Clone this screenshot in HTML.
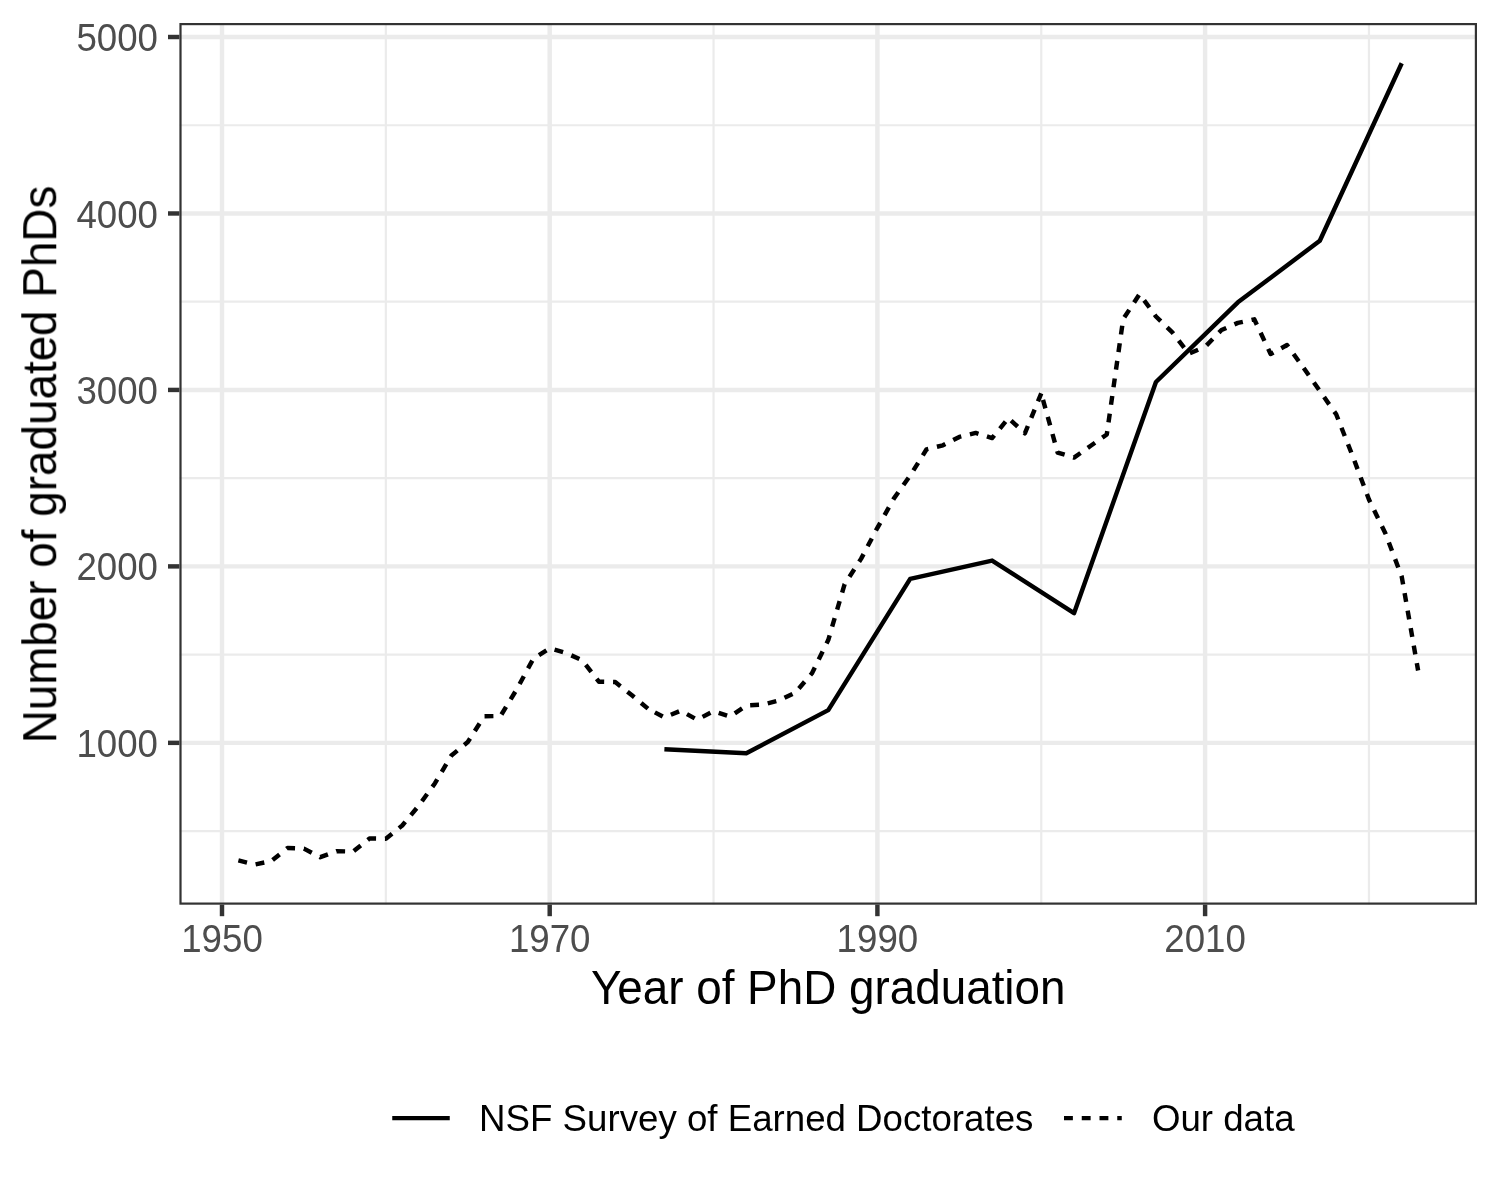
<!DOCTYPE html>
<html><head><meta charset="utf-8"><style>
html,body{margin:0;padding:0;background:#fff;}
body{width:1500px;height:1200px;overflow:hidden;}
svg{display:block;}
text{font-family:"Liberation Sans",sans-serif;will-change:transform;}
.ax{font-size:36.67px;fill:#4D4D4D;}
.ti{font-size:45.83px;fill:#000;}
.lg{font-size:36.67px;fill:#000;}
</style></head><body>
<svg width="1500" height="1200" viewBox="0 0 1500 1200">
<rect x="0" y="0" width="1500" height="1200" fill="#fff"/>
<defs><clipPath id="pc"><rect x="179.4" y="23.0" width="1297.60" height="881.70"/></clipPath></defs>
<g clip-path="url(#pc)">
<line x1="385.85" y1="23.0" x2="385.85" y2="904.7" stroke="#EBEBEB" stroke-width="2.2"/>
<line x1="713.55" y1="23.0" x2="713.55" y2="904.7" stroke="#EBEBEB" stroke-width="2.2"/>
<line x1="1041.25" y1="23.0" x2="1041.25" y2="904.7" stroke="#EBEBEB" stroke-width="2.2"/>
<line x1="1368.95" y1="23.0" x2="1368.95" y2="904.7" stroke="#EBEBEB" stroke-width="2.2"/>
<line x1="179.4" y1="831.08" x2="1477.0" y2="831.08" stroke="#EBEBEB" stroke-width="2.2"/>
<line x1="179.4" y1="654.62" x2="1477.0" y2="654.62" stroke="#EBEBEB" stroke-width="2.2"/>
<line x1="179.4" y1="478.16" x2="1477.0" y2="478.16" stroke="#EBEBEB" stroke-width="2.2"/>
<line x1="179.4" y1="301.70" x2="1477.0" y2="301.70" stroke="#EBEBEB" stroke-width="2.2"/>
<line x1="179.4" y1="125.24" x2="1477.0" y2="125.24" stroke="#EBEBEB" stroke-width="2.2"/>
<line x1="222.00" y1="23.0" x2="222.00" y2="904.7" stroke="#EBEBEB" stroke-width="4.45"/>
<line x1="549.70" y1="23.0" x2="549.70" y2="904.7" stroke="#EBEBEB" stroke-width="4.45"/>
<line x1="877.40" y1="23.0" x2="877.40" y2="904.7" stroke="#EBEBEB" stroke-width="4.45"/>
<line x1="1205.10" y1="23.0" x2="1205.10" y2="904.7" stroke="#EBEBEB" stroke-width="4.45"/>
<line x1="179.4" y1="742.85" x2="1477.0" y2="742.85" stroke="#EBEBEB" stroke-width="4.45"/>
<line x1="179.4" y1="566.39" x2="1477.0" y2="566.39" stroke="#EBEBEB" stroke-width="4.45"/>
<line x1="179.4" y1="389.93" x2="1477.0" y2="389.93" stroke="#EBEBEB" stroke-width="4.45"/>
<line x1="179.4" y1="213.47" x2="1477.0" y2="213.47" stroke="#EBEBEB" stroke-width="4.45"/>
<line x1="179.4" y1="37.01" x2="1477.0" y2="37.01" stroke="#EBEBEB" stroke-width="4.45"/>
<polyline points="238.38,860.40 254.77,864.50 271.15,861.10 287.54,848.00 303.93,848.60 320.31,857.20 336.69,851.20 353.08,851.50 369.47,838.50 385.85,838.70 402.24,825.50 418.62,805.80 435.00,783.20 451.39,755.50 467.78,742.00 484.16,716.30 500.55,716.00 516.93,689.00 533.32,658.70 549.70,648.30 566.09,653.00 582.47,660.50 598.86,681.70 615.24,682.00 631.62,695.00 648.01,708.70" fill="none" stroke="#000" stroke-width="4.45" stroke-dasharray="8.875 8.875" stroke-dashoffset="0.000" stroke-linejoin="round" stroke-linecap="butt"/>
<polyline points="648.01,708.70 664.39,717.40 680.78,710.70 697.16,719.70 713.55,711.20 729.94,716.60 746.32,705.50 762.71,704.60 779.09,700.30 795.48,692.50" fill="none" stroke="#000" stroke-width="4.45" stroke-dasharray="8.875 8.875" stroke-dashoffset="9.957" stroke-linejoin="round" stroke-linecap="butt"/>
<polyline points="795.48,692.50 811.86,673.40 828.25,640.10 844.63,584.20 861.02,558.90 877.40,527.80 893.79,498.60 910.17,475.60 926.56,449.30 942.94,445.30 959.33,436.90 975.71,432.90 992.10,438.10 1008.48,418.10" fill="none" stroke="#000" stroke-width="4.45" stroke-dasharray="8.875 8.875" stroke-dashoffset="12.553" stroke-linejoin="round" stroke-linecap="butt"/>
<polyline points="1008.48,418.10 1024.87,433.30 1041.25,393.40" fill="none" stroke="#000" stroke-width="4.45" stroke-dasharray="8.875 8.875" stroke-dashoffset="14.126" stroke-linejoin="round" stroke-linecap="butt"/>
<polyline points="1041.25,393.40 1057.64,452.60 1074.02,457.60 1090.41,446.00 1106.79,434.50 1123.18,319.10 1139.56,294.10 1155.95,316.50 1172.33,332.30 1188.72,353.70 1205.10,346.80" fill="none" stroke="#000" stroke-width="4.45" stroke-dasharray="8.875 8.875" stroke-dashoffset="11.109" stroke-linejoin="round" stroke-linecap="butt"/>
<polyline points="1205.10,346.80 1221.49,330.00 1237.87,322.90 1254.26,319.30 1270.64,354.00 1287.03,345.00 1303.41,367.60" fill="none" stroke="#000" stroke-width="4.45" stroke-dasharray="8.875 8.875" stroke-dashoffset="15.703" stroke-linejoin="round" stroke-linecap="butt"/>
<polyline points="1303.41,367.60 1319.80,391.00 1336.18,414.30 1352.57,455.80 1368.95,499.50 1385.34,533.20 1401.72,576.60 1418.11,670.50" fill="none" stroke="#000" stroke-width="4.45" stroke-dasharray="8.875 8.875" stroke-dashoffset="17.236" stroke-linejoin="round" stroke-linecap="butt"/>
<polyline points="664.39,749.20 746.32,753.30 828.25,710.10 910.17,578.90 992.10,560.60 1074.02,613.20 1155.95,382.00 1237.87,302.30 1319.80,240.80 1401.72,63.30" fill="none" stroke="#000" stroke-width="4.45" stroke-linejoin="round" stroke-linecap="butt"/>
</g>
<rect x="180.5" y="24.1" width="1295.40" height="879.50" fill="none" stroke="#333333" stroke-width="2.2"/>
<line x1="168.0" y1="742.85" x2="179.4" y2="742.85" stroke="#333333" stroke-width="4.45"/>
<line x1="168.0" y1="566.39" x2="179.4" y2="566.39" stroke="#333333" stroke-width="4.45"/>
<line x1="168.0" y1="389.93" x2="179.4" y2="389.93" stroke="#333333" stroke-width="4.45"/>
<line x1="168.0" y1="213.47" x2="179.4" y2="213.47" stroke="#333333" stroke-width="4.45"/>
<line x1="168.0" y1="37.01" x2="179.4" y2="37.01" stroke="#333333" stroke-width="4.45"/>
<line x1="222.00" y1="904.7" x2="222.00" y2="916.2" stroke="#333333" stroke-width="4.45"/>
<line x1="549.70" y1="904.7" x2="549.70" y2="916.2" stroke="#333333" stroke-width="4.45"/>
<line x1="877.40" y1="904.7" x2="877.40" y2="916.2" stroke="#333333" stroke-width="4.45"/>
<line x1="1205.10" y1="904.7" x2="1205.10" y2="916.2" stroke="#333333" stroke-width="4.45"/>
<text transform="translate(158.0,756.95) scale(1,1.04)" text-anchor="end" class="ax">1000</text>
<text transform="translate(158.0,580.49) scale(1,1.04)" text-anchor="end" class="ax">2000</text>
<text transform="translate(158.0,404.03) scale(1,1.04)" text-anchor="end" class="ax">3000</text>
<text transform="translate(158.0,227.57) scale(1,1.04)" text-anchor="end" class="ax">4000</text>
<text transform="translate(158.0,51.11) scale(1,1.04)" text-anchor="end" class="ax">5000</text>
<text transform="translate(222.00,952.3) scale(1,1.04)" text-anchor="middle" class="ax">1950</text>
<text transform="translate(549.70,952.3) scale(1,1.04)" text-anchor="middle" class="ax">1970</text>
<text transform="translate(877.40,952.3) scale(1,1.04)" text-anchor="middle" class="ax">1990</text>
<text transform="translate(1205.10,952.3) scale(1,1.04)" text-anchor="middle" class="ax">2010</text>
<text transform="translate(828.2,1003.8) scale(1,1.037)" text-anchor="middle" class="ti">Year of PhD graduation</text>
<text transform="translate(55.8,464.5) rotate(-90) scale(1,1.037)" text-anchor="middle" class="ti">Number of graduated PhDs</text>
<line x1="392.25" y1="1118.1" x2="449.75" y2="1118.1" stroke="#000" stroke-width="4.45"/>
<text transform="translate(479.1,1131.0) scale(1,1.03)" class="lg">NSF Survey of Earned Doctorates</text>
<line x1="1064.0" y1="1118.1" x2="1121.75" y2="1118.1" stroke="#000" stroke-width="4.45" stroke-dasharray="8.875 8.875"/>
<text transform="translate(1151.9,1131.0) scale(1,1.03)" class="lg">Our data</text>
</svg>
</body></html>
